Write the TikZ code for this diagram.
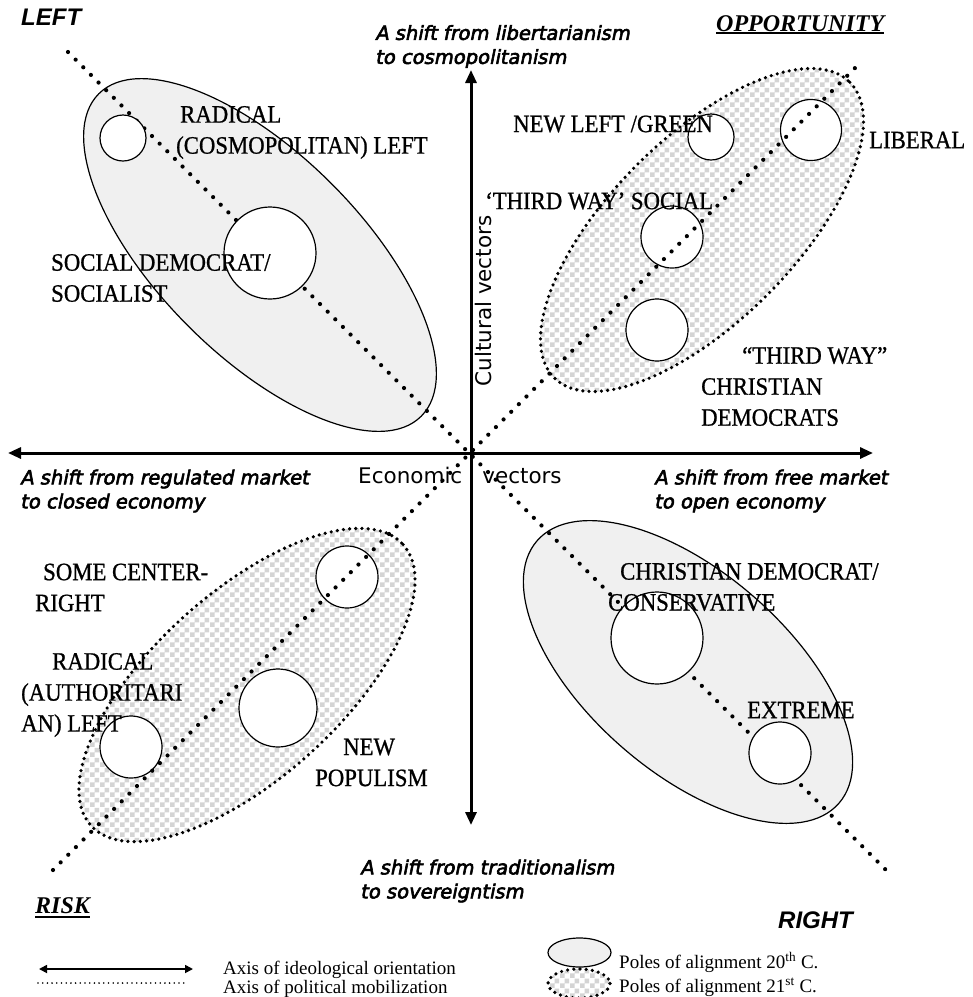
\documentclass[tikz,border=0pt]{standalone}
\usepackage{fontspec}
\setmainfont{Liberation Serif}
\newfontfamily\labfont[FakeStretch=0.91,FakeBold=0.8]{Liberation Serif}
\newfontfamily\shiftfont[FakeSlant=0.2,FakeBold=3]{DejaVu Sans}
\newfontfamily\vecfont{DejaVu Sans}
\newfontfamily\arialfont{Liberation Sans}
\usetikzlibrary{arrows.meta,patterns}
\pgfdeclarepatternformonly{chk}{\pgfpointorigin}{\pgfqpoint{10pt}{10pt}}{\pgfqpoint{10pt}{10pt}}{%
  \pgfpathrectangle{\pgfpointorigin}{\pgfqpoint{5pt}{5pt}}%
  \pgfpathrectangle{\pgfqpoint{5pt}{5pt}}{\pgfqpoint{5pt}{5pt}}%
  \pgfusepath{fill}}
\definecolor{poleold}{HTML}{F0F0F0}
\definecolor{chkgray}{HTML}{D4D4D4}
\newcommand\ulbar[2]{\setbox0\hbox{#2}\rlap{\rule[#1]{\wd0}{1.9pt}}\box0}
\begin{document}
\begin{tikzpicture}[x=1pt,y=-1pt,
  axisline/.style={line width=3pt,{Triangle[length=13pt,width=11pt]}-{Triangle[length=13pt,width=11pt]}},
  mob/.style={line width=4.2pt,line cap=round,dash pattern=on 0pt off 10.8pt},
  oldpole/.style={draw,line width=1.2pt,fill=poleold},
  newfill/.style={pattern=chk,pattern color=chkgray},
  newrim/.style={line width=3.6pt,line cap=round,dash pattern=on 0pt off 6.2pt},
  party/.style={circle,draw,fill=white,line width=1.2pt,inner sep=0pt},
  lab/.style={font={\labfont\fontsize{25}{31}\selectfont},align=left,inner sep=0pt,anchor=west},
  shifttext/.style={font={\shiftfont\fontsize{19.5}{24}\selectfont},align=left,inner sep=0pt,anchor=west},
  vectext/.style={font={\vecfont\fontsize{21.5}{24}\selectfont},inner sep=0pt},
  cornertext/.style={font={\arialfont\bfseries\itshape\fontsize{24}{24}\selectfont},inner sep=0pt,anchor=west},
  seriftitle/.style={font={\bfseries\itshape\fontsize{24}{24}\selectfont},inner sep=0pt,anchor=base west},
  legtext/.style={font={\fontsize{19}{22}\selectfont},inner sep=0pt,anchor=base west},
  legarrow/.style={line width=1.7pt,{Triangle[length=8pt,width=8pt]}-{Triangle[length=8pt,width=8pt]}},
  legdots/.style={line width=1.8pt,line cap=round,dash pattern=on 0pt off 4.7pt}]
\useasboundingbox (0,0) rectangle (973,997);
\fill[white] (0,0) rectangle (973,997);

% poles of alignment
\draw[oldpole,rotate around={-45:(260,255)}] (260,255) ellipse [x radius=228,y radius=101];
\draw[oldpole,rotate around={-41:(688,672)}] (688,672) ellipse [x radius=200,y radius=100];
\fill[newfill,rotate around={45:(702,230)}] (702,230) ellipse [x radius=209,y radius=92];
\draw[newrim,rotate around={45:(702,230)}] (702,230) ellipse [x radius=209,y radius=92];
\fill[newfill,rotate around={42:(247,685)}] (247,685) ellipse [x radius=210,y radius=93];
\draw[newrim,rotate around={42:(247,685)}] (247,685) ellipse [x radius=210,y radius=93];

% axes of political mobilization (end points)
\coordinate (mtl) at (68,52);
\coordinate (mbr) at (887,871);
\coordinate (mbl) at (53,870);
\coordinate (mtr) at (857,66);
\draw[mob] (mtl) -- (mbr);

% parties
\node[party,minimum size=46pt] (c1) at (123,138) {};
\node[party,minimum size=92pt] (c2) at (270,253) {};
\node[party,minimum size=46pt] (c3) at (711,137) {};
\node[party,minimum size=61pt] (c4) at (811,130) {};
\node[party,minimum size=62pt] (c5) at (672,237) {};
\node[party,minimum size=62pt] (c6) at (657,330) {};
\node[party,minimum size=62pt] (c7) at (347,577) {};
\node[party,minimum size=78pt] (c8) at (278,708) {};
\node[party,minimum size=62pt] (c9) at (131,747) {};
\node[party,minimum size=92pt] (c10) at (657,638) {};
\node[party,minimum size=62pt] (c11) at (780,753) {};

\draw[mob] (mbl) -- (mtr);

% axes of ideological orientation
\coordinate (axl) at (8,453);
\coordinate (axr) at (873,453);
\coordinate (axt) at (471,70);
\coordinate (axb) at (471,825);
\draw[axisline] (axl) -- (axr);
\draw[axisline] (axt) -- (axb);

% axis names
\node[vectext,anchor=base west] (econ) at (358,483) {Economic\hspace{20pt}vectors};
\node[vectext,anchor=base,rotate=90] (cult) at (491,301) {Cultural vectors};

% shift texts
\node[shifttext] (s1) at (375,46.5) {A shift from libertarianism\\to cosmopolitanism};
\node[shifttext] (s2) at (20,491) {A shift from regulated market\\to closed economy};
\node[shifttext] (s3) at (654,491) {A shift from free market\\to open economy};
\node[shifttext] (s4) at (360,881) {A shift from traditionalism\\to sovereigntism};

% corner titles
\node[cornertext] (tleft) at (21,17) {LEFT};
\node[cornertext] (tright) at (778,920) {RIGHT};
\node[seriftitle] (topp) at (716,31) {\ulbar{-3pt}{OPPORTUNITY}};
\node[seriftitle] (trisk) at (35,913) {\ulbar{-4.5pt}{RISK}};

% party labels
\node[lab] (l1) at (176,132.5) {\hspace*{4pt}RADICAL\\(COSMOPOLITAN) LEFT};
\node[lab] (l2) at (51,278) {SOCIAL DEMOCRAT/\\SOCIALIST};
\node[lab] (l3) at (513,124) {NEW LEFT /GREEN};
\node[lab] (l4) at (869,140) {LIBERAL};
\node[lab] (l5) at (485,201) {‘THIRD WAY’ SOCIAL};
\node[lab] (l6) at (701,386.5) {\hspace*{41pt}“THIRD WAY”\\CHRISTIAN\\DEMOCRATS};
\node[lab] (l7) at (35,587.5) {\hspace*{8pt}SOME CENTER-\\RIGHT};
\node[lab] (l8) at (21,695) {\hspace*{31pt}RADICAL\\(AUTHORITARI\\AN) LEFT};
\node[lab] (l9) at (315,762.5) {\hspace*{28pt}NEW\\POPULISM};
\node[lab] (l10) at (608,587) {\hspace*{12pt}CHRISTIAN DEMOCRAT/\\CONSERVATIVE};
\node[lab] (l11) at (747,710) {EXTREME};

% legend
\coordinate (la1) at (39,969);
\coordinate (la2) at (193,969);
\draw[legarrow] (la1) -- (la2);
\coordinate (ld1) at (38,983);
\coordinate (ld2) at (187,983);
\draw[legdots] (ld1) -- (ld2);
\node[legtext] (lt1) at (223,974) {Axis of ideological orientation};
\node[legtext] (lt2) at (223,993) {Axis of political mobilization};
\fill[poleold] (579.5,952.5) ellipse [x radius=31.5,y radius=14.5];
\draw[line width=1.2pt] (579.5,952.5) ellipse [x radius=31.5,y radius=14.5];
\fill[newfill] (579,983.5) ellipse [x radius=31,y radius=14.5];
\draw[newrim] (579,983.5) ellipse [x radius=31,y radius=14.5];
\node[legtext] (lt3) at (619,968) {Poles of alignment 20\textsuperscript{th} C.};
\node[legtext] (lt4) at (619,992) {Poles of alignment 21\textsuperscript{st} C.};
\end{tikzpicture}
\end{document}
